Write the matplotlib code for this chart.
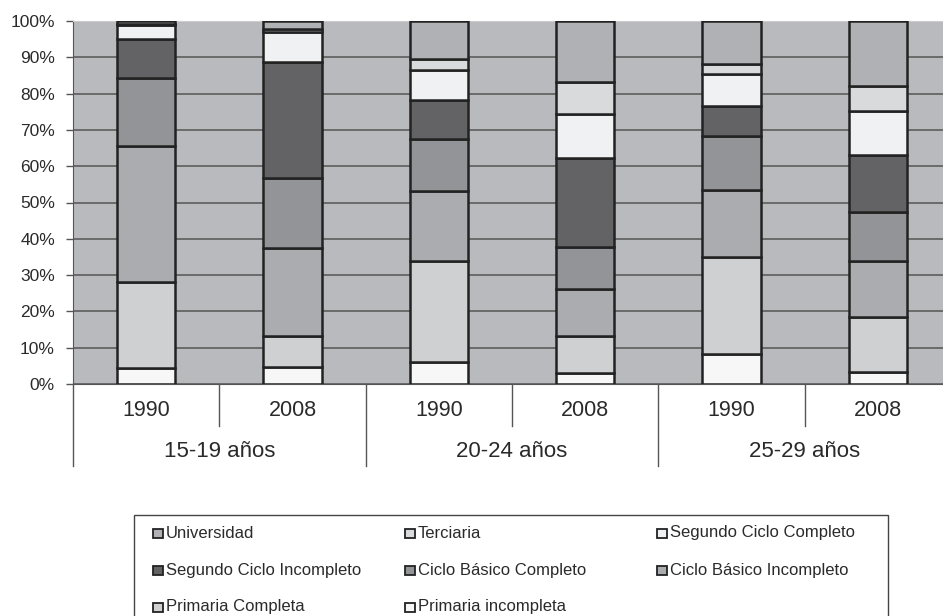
import matplotlib
matplotlib.use("Agg")
import matplotlib.pyplot as plt
from matplotlib.patches import Rectangle
import matplotlib.transforms as mtransforms

plt.rcParams["font.family"] = ["Liberation Sans", "DejaVu Sans"]

# data (percent of each age group / year)
groups = ["15-19 años", "20-24 años", "25-29 años"]
years = ["1990", "2008", "1990", "2008", "1990", "2008"]

# stacked bottom -> top
series = ["Primaria incompleta", "Primaria Completa", "Ciclo Básico Incompleto",
          "Ciclo Básico Completo", "Segundo Ciclo Incompleto",
          "Segundo Ciclo Completo", "Terciaria", "Universidad"]
prim_incompleta = [4.3, 4.8, 6.0, 3.1, 8.3, 3.4]
prim_completa = [23.9, 8.5, 28.0, 10.2, 26.6, 15.0]
cb_incompleto = [37.3, 24.1, 19.3, 12.8, 18.6, 15.4]
cb_completo = [18.9, 19.4, 14.2, 11.6, 14.9, 13.6]
sc_incompleto = [10.7, 31.9, 10.7, 24.5, 8.1, 15.7]
sc_completo = [3.7, 8.3, 8.3, 12.2, 8.8, 12.1]
terciaria = [0.3, 0.7, 3.1, 8.8, 2.9, 6.9]
universidad = [0.9, 2.3, 10.4, 16.8, 11.8, 17.9]
values = [prim_incompleta, prim_completa, cb_incompleto, cb_completo,
          sc_incompleto, sc_completo, terciaria, universidad]
colors = ["#f7f7f7", "#cfd0d2", "#abacaf", "#939497",
          "#636365", "#f0f1f3", "#d9dadc", "#b0b1b4"]

# legend reading order (row by row)
legend_order = ["Universidad", "Terciaria", "Segundo Ciclo Completo",
                "Segundo Ciclo Incompleto", "Ciclo Básico Completo", "Ciclo Básico Incompleto",
                "Primaria Completa", "Primaria incompleta"]

W, H = 943, 616
fig = plt.figure(figsize=(W / 100, H / 100), dpi=100)

def fx(px):
    return px / W

def fy(py):
    return 1 - py / H

ax = fig.add_axes([fx(73), fy(384), 878 / W, 363 / H])
ax.set_facecolor("#b9babd")

x = list(range(len(years)))
bottom = [0] * len(years)
for name, vals, c in zip(series, values, colors):
    ax.bar(x, vals, width=0.4, bottom=bottom, color=c, edgecolor="#222222",
           linewidth=1.8, zorder=3)
    bottom = [b + v for b, v in zip(bottom, vals)]

ax.set_xlim(-0.5, len(years) - 0.5)
ax.set_ylim(0, 100)
ax.set_yticks(range(0, 101, 10))
ax.set_yticklabels([f"{v}%" for v in range(0, 101, 10)], fontsize=12.5, color="#2a2a2a")
ax.tick_params(axis="y", length=5, width=1, color="#555555", pad=8)
ax.set_xticks([])
ax.yaxis.grid(True, color="#555555", linewidth=1.1, zorder=0)
ax.set_axisbelow(True)

ax.spines["right"].set_visible(False)
ax.spines["top"].set_color("#cccccc")
ax.spines["left"].set_color("#555555")
ax.spines["bottom"].set_color("#555555")

# two-level category axis
trans = mtransforms.blended_transform_factory(ax.transData, ax.transAxes)
for i, yr in enumerate(years):
    ax.text(i, -0.072, yr, transform=trans, ha="center", va="center",
            fontsize=15.5, color="#2a2a2a")
for g, name in enumerate(groups):
    ax.text(2 * g + 0.5, -0.187, name, transform=trans, ha="center", va="center",
            fontsize=16, color="#2a2a2a")
for sep in [0.5, 2.5, 4.5]:
    ax.plot([sep, sep], [0, -0.116], transform=trans, color="#555555",
            linewidth=1, clip_on=False)
for sep in [-0.5, 1.5, 3.5]:
    ax.plot([sep, sep], [0, -0.226], transform=trans, color="#555555",
            linewidth=1, clip_on=False)

# legend box drawn by hand (3 columns, row-major)
fig.add_artist(Rectangle((fx(134), fy(640)), fx(888) - fx(134), fy(515) - fy(640),
                         transform=fig.transFigure, facecolor="none",
                         edgecolor="#444444", linewidth=1))
col_x = [153, 405, 657]
row_y = [533, 570, 607]
for k, name in enumerate(legend_order):
    r, c = divmod(k, 3)
    col = colors[series.index(name)]
    fig.add_artist(Rectangle((fx(col_x[c]), fy(row_y[r] + 4.5)), 10 / W, 9 / H,
                             transform=fig.transFigure, facecolor=col,
                             edgecolor="#222222", linewidth=1.3))
    fig.text(fx(col_x[c] + 13), fy(row_y[r]), name, ha="left", va="center",
             fontsize=12, color="#2a2a2a")

fig.savefig("out.png", dpi=100, facecolor="white")
